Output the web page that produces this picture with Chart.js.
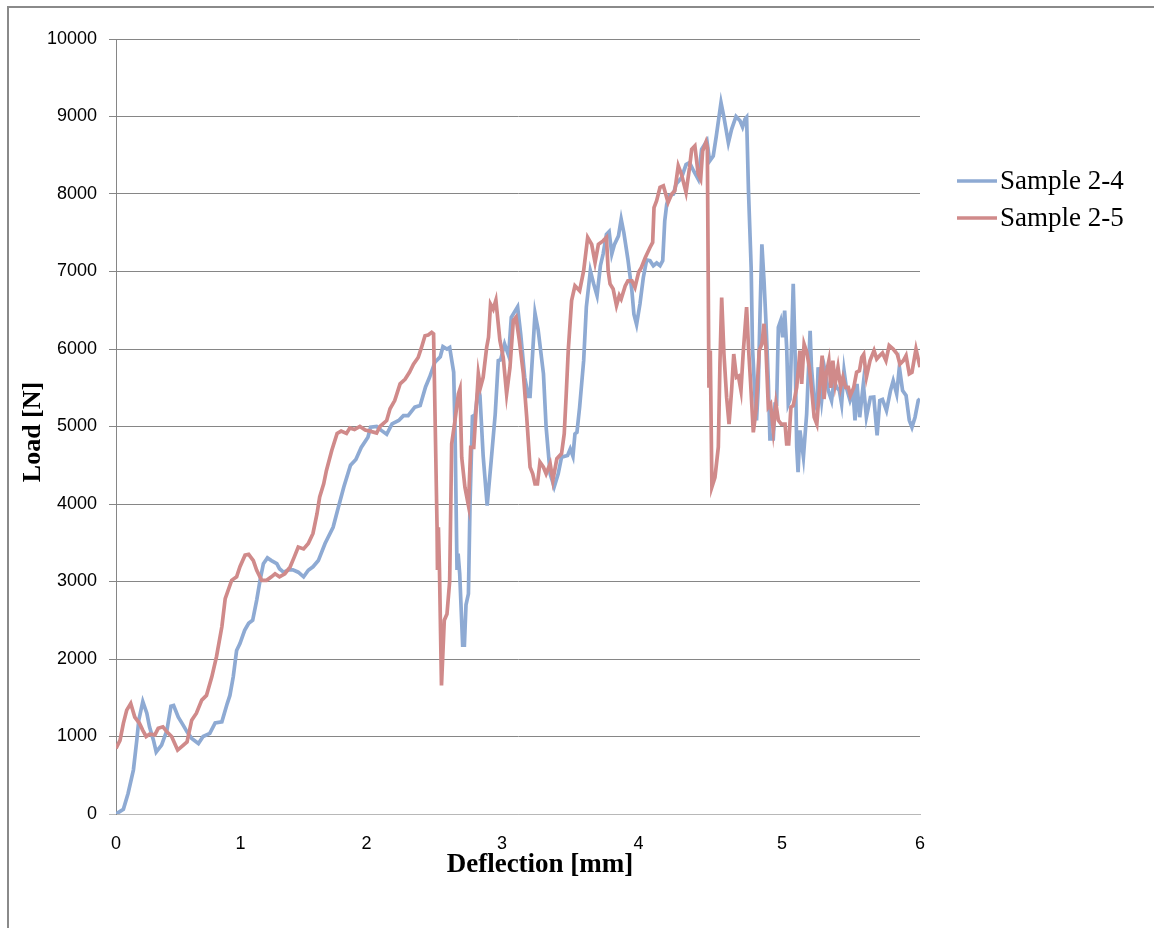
<!DOCTYPE html>
<html>
<head>
<meta charset="utf-8">
<script src="https://cdn.jsdelivr.net/npm/chart.js@4.4.1/dist/chart.umd.min.js"></script>
<style>
  html, body { margin: 0; padding: 0; background: #fff; overflow: hidden; }
  canvas { display: block; }
</style>
</head>
<body>
<canvas id="grafico" width="1154" height="928"></canvas>
<script>
// series names
const seriesNames = ['Sample 2-4', 'Sample 2-5'];

// Sample 2-4 : deflection [mm] / load [N]
const defl24 = [0,0.055,0.09,0.13,0.155,0.17,0.2,0.23,0.25,0.28,0.30,0.34,0.38,0.41,0.43,0.465,0.50,0.53,0.565,0.615,
  0.65,0.70,0.74,0.79,0.83,0.85,0.875,0.90,0.925,0.96,0.99,1.02,1.05,1.075,1.10,1.13,1.16,1.20,1.22,1.25,
  1.29,1.32,1.36,1.40,1.435,1.47,1.51,1.56,1.62,1.66,1.70,1.75,1.79,1.83,1.88,1.90,1.945,1.98,2.02,2.06,
  2.11,2.145,2.18,2.23,2.27,2.31,2.34,2.38,2.42,2.44,2.47,2.49,2.52,2.53,2.545,2.553,2.565,2.587,2.60,2.612,
  2.63,2.642,2.66,2.68,2.704,2.716,2.74,2.77,2.80,2.83,2.853,2.87,2.90,2.93,2.95,2.997,3.02,3.05,3.077,3.09,
  3.127,3.15,3.19,3.21,3.24,3.27,3.30,3.325,3.37,3.39,3.41,3.425,3.44,3.46,3.49,3.51,3.54,3.565,3.59,3.615,
  3.635,3.66,3.68,3.70,3.72,3.75,3.77,3.79,3.82,3.85,3.865,3.885,3.91,3.935,3.96,3.985,4.01,4.035,4.06,4.08,
  4.095,4.11,4.13,4.16,4.18,4.22,4.254,4.28,4.31,4.345,4.37,4.41,4.43,4.457,4.48,4.515,4.537,4.57,4.594,4.627,
  4.657,4.676,4.694,4.706,4.72,4.74,4.75,4.77,4.78,4.793,4.806,4.82,4.836,4.85,4.868,4.88,4.905,4.918,4.93,4.943,
  4.96,4.975,4.99,5.005,5.017,5.03,5.054,5.067,5.08,5.09,5.104,5.13,5.154,5.18,5.19,5.21,5.23,5.24,5.266,5.29,
  5.316,5.34,5.358,5.38,5.398,5.415,5.433,5.45,5.478,5.50,5.515,5.53,5.55,5.577,5.60,5.63,5.655,5.68,5.70,5.72,
  5.75,5.78,5.80,5.826,5.846,5.87,5.896,5.92,5.94,5.963,5.987,6.0];
const load24 = [0,60,265,570,950,1210,1450,1300,1125,950,800,890,1080,1390,1400,1250,1150,1060,975,910,
  1000,1040,1175,1190,1425,1530,1770,2110,2200,2370,2460,2500,2760,3015,3230,3305,3270,3230,3165,3120,
  3150,3150,3120,3060,3145,3190,3270,3490,3700,3960,4220,4500,4575,4730,4860,4990,5000,4950,4900,5035,
  5077,5140,5140,5250,5270,5510,5635,5830,5900,6030,6000,6020,5700,4950,3150,3360,3100,2180,2180,2700,
  2840,4000,5130,5150,5505,5400,4620,3980,4560,5160,5850,5860,6065,5915,6410,6545,6195,5635,5390,5390,
  6460,6250,5680,4990,4390,4220,4390,4605,4625,4710,4615,4905,4925,5250,5850,6540,7010,6840,6690,7075,
  7225,7480,7515,7225,7350,7460,7675,7500,7160,6750,6450,6315,6580,6920,7150,7140,7075,7110,7075,7140,
  7650,7870,7980,8000,8130,8210,8380,8405,8300,8190,8575,8685,8425,8490,8750,9180,8990,8660,8835,9000,
  8945,8865,8965,8990,8040,7050,6020,5335,5080,5505,6450,7350,6880,6365,5590,4840,4840,5290,5290,6280,
  6365,6150,6495,6020,5290,5350,6840,6020,4735,4410,4950,4605,5160,6235,5765,5335,5230,5765,5335,5720,
  5465,5335,5590,5500,5465,5290,5720,5505,5335,5450,5080,5550,5120,5550,5120,5375,5380,4885,5335,5350,
  5205,5465,5590,5420,5765,5465,5400,5080,4990,5120,5335,5355];

// Sample 2-5 : deflection [mm] / load [N]
const defl25 = [0,0.03,0.055,0.08,0.11,0.14,0.175,0.2,0.225,0.25,0.29,0.315,0.35,0.38,0.415,0.46,0.49,0.53,0.565,0.60,
  0.64,0.675,0.715,0.75,0.79,0.815,0.863,0.90,0.925,0.963,0.99,1.025,1.05,1.087,1.124,1.16,1.187,1.22,1.26,1.30,
  1.33,1.36,1.40,1.435,1.47,1.50,1.52,1.55,1.57,1.61,1.65,1.68,1.72,1.745,1.78,1.82,1.86,1.895,1.945,1.97,
  2.02,2.045,2.08,2.12,2.157,2.19,2.22,2.255,2.28,2.306,2.33,2.356,2.37,2.396,2.399,2.406,2.414,2.429,2.45,2.47,
  2.49,2.505,2.53,2.555,2.567,2.58,2.604,2.63,2.647,2.67,2.687,2.704,2.72,2.74,2.766,2.78,2.795,2.815,2.835,2.865,
  2.89,2.915,2.94,2.965,2.985,3.01,3.04,3.065,3.09,3.11,3.127,3.145,3.164,3.19,3.21,3.24,3.26,3.29,3.325,3.345,
  3.36,3.375,3.40,3.425,3.46,3.49,3.52,3.55,3.575,3.60,3.635,3.66,3.673,3.687,3.71,3.735,3.756,3.77,3.80,3.82,
  3.85,3.873,3.90,3.92,3.95,3.985,4.005,4.015,4.034,4.06,4.085,4.12,4.147,4.17,4.196,4.22,4.254,4.28,4.296,4.32,
  4.345,4.363,4.378,4.403,4.413,4.425,4.435,4.447,4.47,4.495,4.507,4.52,4.537,4.557,4.575,4.594,4.61,4.63,4.645,4.664,
  4.68,4.706,4.72,4.735,4.756,4.776,4.80,4.82,4.836,4.85,4.868,4.885,4.905,4.925,4.943,4.965,4.993,5.005,5.02,5.037,
  5.054,5.08,5.104,5.117,5.135,5.155,5.174,5.19,5.21,5.23,5.25,5.27,5.284,5.30,5.32,5.335,5.35,5.367,5.388,5.408,
  5.425,5.445,5.465,5.48,5.505,5.527,5.548,5.565,5.58,5.60,5.627,5.657,5.677,5.70,5.72,5.746,5.77,5.80,5.83,5.85,
  5.876,5.896,5.92,5.94,5.955,5.97,5.995,6.0];
const load25 = [845,950,1170,1340,1425,1250,1170,1080,1000,1030,1020,1105,1125,1060,1000,825,870,930,1210,1300,
  1470,1530,1770,2030,2415,2780,3015,3060,3190,3340,3350,3270,3145,3015,3015,3060,3100,3060,3100,3190,
  3315,3445,3420,3490,3620,3875,4090,4260,4430,4690,4910,4940,4910,4980,4960,5000,4955,4940,4915,5000,
  5077,5228,5335,5550,5610,5700,5805,5890,6020,6170,6180,6215,6195,3700,3150,3700,3150,1660,2500,2580,
  3000,4775,5080,5420,5485,4600,4215,3980,4730,4730,5205,5680,5505,5635,6020,6150,6580,6515,6630,6110,
  5890,5420,5760,6365,6410,6110,5680,5120,4475,4390,4260,4260,4540,4475,4390,4520,4305,4585,4650,4905,
  5420,5980,6625,6815,6750,7010,7440,7350,7115,7350,7395,7440,7010,6840,6775,6560,6690,6645,6815,6880,
  6880,6795,6990,7050,7180,7310,7375,7825,7910,8085,8105,7890,8000,8040,8365,8255,8020,8340,8575,8620,
  8255,8190,8555,8670,8600,5500,5980,4220,4345,4735,5810,6665,5935,5375,5030,5465,5935,5635,5650,5465,
  5935,6540,6020,5590,4925,5205,5980,6065,6325,6020,5250,5290,4950,5290,5080,5030,5030,4775,4775,5250,
  5270,5505,5980,5550,6065,5960,5765,5505,5120,5030,5505,5915,5355,5680,5850,5500,5850,5550,5765,5505,
  5635,5505,5505,5400,5500,5700,5720,5890,5930,5635,5850,5980,5870,5915,5950,5850,6045,6000,5935,5805,
  5850,5915,5680,5700,5850,6000,5805,5765];

// x tick labels sit where the category labels of the original sit
const xTickPos = [0, 0.93, 1.87, 2.88, 3.9, 4.97, 6];
const xTickLabels = ['0', '1', '2', '3', '4', '5', '6'];

const cores = ['#8eaad3', '#d08a8a'];

const pontos = (xs, ys) => xs.map((x, i) => ({ x: x, y: ys[i] }));

// moldura, titulos dos eixos e legenda
const extras = {
  id: 'extras',
  beforeDraw(chart) {
    const c = chart.ctx;
    c.save();
    c.fillStyle = '#fff';
    c.fillRect(0, 0, chart.width, chart.height);
    c.strokeStyle = '#8a8a8a';
    c.lineWidth = 2;
    c.strokeRect(8, 7, 1170, 960);
    c.restore();
  },
  afterDraw(chart) {
    const c = chart.ctx;
    c.save();
    c.fillStyle = '#000';
    c.font = 'bold 27px "Liberation Serif"';
    c.textAlign = 'center';
    c.textBaseline = 'alphabetic';
    c.fillText('Deflection [mm]', 540, 872);
    c.font = 'bold 26px "Liberation Serif"';
    c.translate(40, 432);
    c.rotate(-Math.PI / 2);
    c.fillText('Load [N]', 0, 0);
    c.restore();

    c.save();
    c.font = '27px "Liberation Serif"';
    c.textBaseline = 'middle';
    c.lineWidth = 3.5;
    seriesNames.forEach((nome, i) => {
      const y = 181 + i * 37;
      c.strokeStyle = cores[i];
      c.beginPath();
      c.moveTo(957, y);
      c.lineTo(997, y);
      c.stroke();
      c.fillStyle = '#000';
      c.fillText(nome, 1000, y + 1);
    });
    c.restore();
  }
};

new Chart(document.getElementById('grafico').getContext('2d'), {
  type: 'line',
  data: {
    datasets: [
      { label: seriesNames[0], data: pontos(defl24, load24), borderColor: cores[0], borderWidth: 3.7, pointRadius: 0, tension: 0, order: 1 },
      { label: seriesNames[1], data: pontos(defl25, load25), borderColor: cores[1], borderWidth: 3.7, pointRadius: 0, tension: 0, order: 0 }
    ]
  },
  options: {
    responsive: false,
    animation: false,
    layout: { padding: { left: 0, top: 39, right: 234, bottom: 0 } },
    plugins: { legend: { display: false }, tooltip: { enabled: false } },
    scales: {
      x: {
        type: 'linear',
        min: 0,
        max: 6,
        afterFit: s => { s.height = 114; },
        afterBuildTicks: s => { s.ticks = xTickPos.map(v => ({ value: v })); },
        grid: { display: false },
        border: { display: true, color: '#b8b8b8', width: 1 },
        ticks: {
          autoSkip: false,
          maxRotation: 0,
          padding: 11,
          color: '#000',
          font: { family: 'Liberation Sans', size: 18 },
          callback: (v, i) => xTickLabels[i]
        }
      },
      y: {
        min: 0,
        max: 10000,
        afterFit: s => { s.width = 116; },
        grid: {
          color: ctx => (ctx.tick && ctx.tick.value === 0) ? '#b8b8b8' : '#868686',
          tickLength: 7,
          lineWidth: 1
        },
        border: { display: true, color: '#868686', width: 1 },
        ticks: {
          stepSize: 1000,
          padding: 12,
          color: '#000',
          font: { family: 'Liberation Sans', size: 18 },
          callback: v => String(v)
        }
      }
    }
  },
  plugins: [extras]
});
</script>
</body>
</html>
